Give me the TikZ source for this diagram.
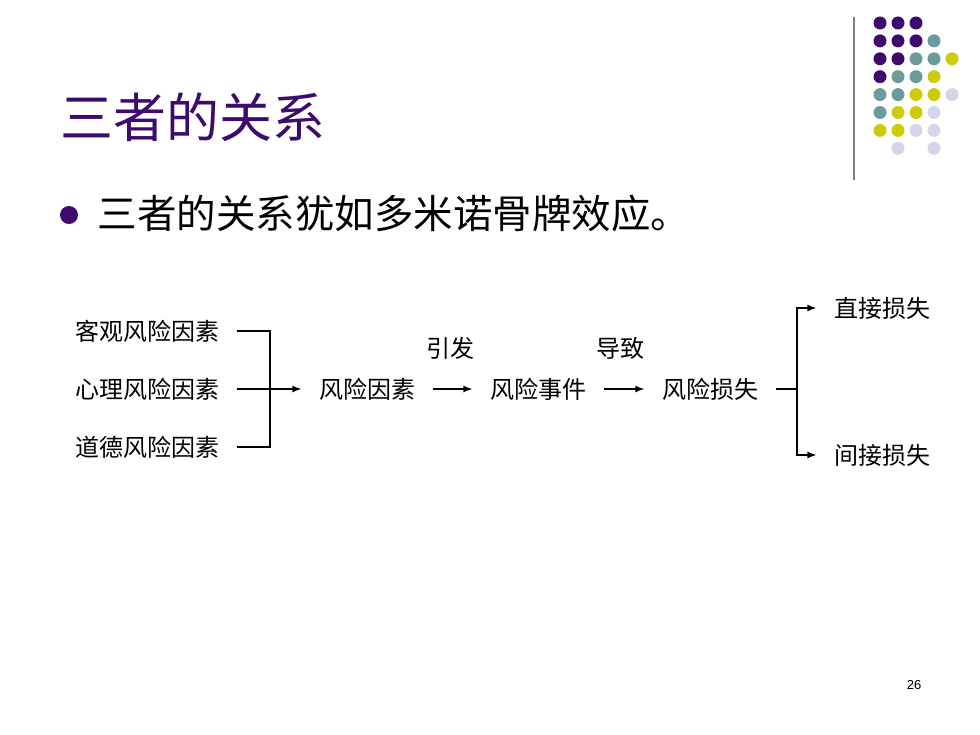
\documentclass[tikz,border=0pt]{standalone}
\usepackage{fontspec}
\setmainfont{Liberation Sans}
\newfontfamily\cjk{Noto Sans CJK SC}
\usetikzlibrary{arrows.meta}
\definecolor{slidepurple}{HTML}{3D0A6E}
\definecolor{dotteal}{HTML}{6B9B9B}
\definecolor{dotyellow}{HTML}{CCCC0A}
\definecolor{dotlilac}{HTML}{D5D5EA}
\tikzset{>={Latex[length=9pt,width=7pt]}}

\begin{document}
\begin{tikzpicture}[x=1pt, y=-1pt, line width=1.3pt,
    factor/.style={inner xsep=17pt, inner ysep=0pt, font=\cjk\fontsize{24}{24}\selectfont},
    verb/.style={inner sep=0pt, font=\cjk\fontsize{24}{24}\selectfont}]
  \fill[white] (0,0) rectangle (980,735);
  \useasboundingbox (0,0) rectangle (980,735);

  % corner decoration
  \draw[gray, line width=1.6pt] (854,17) -- (854,180);
  \foreach \c/\r/\col in {0/0/slidepurple, 1/0/slidepurple, 2/0/slidepurple,
      0/1/slidepurple, 1/1/slidepurple, 2/1/slidepurple, 3/1/dotteal,
      0/2/slidepurple, 1/2/slidepurple, 2/2/dotteal, 3/2/dotteal, 4/2/dotyellow,
      0/3/slidepurple, 1/3/dotteal, 2/3/dotteal, 3/3/dotyellow,
      0/4/dotteal, 1/4/dotteal, 2/4/dotyellow, 3/4/dotyellow, 4/4/dotlilac,
      0/5/dotteal, 1/5/dotyellow, 2/5/dotyellow, 3/5/dotlilac,
      0/6/dotyellow, 1/6/dotyellow, 2/6/dotlilac, 3/6/dotlilac,
      1/7/dotlilac, 3/7/dotlilac}
    \fill[\col] (880+18*\c, 23+17.9*\r) circle (6.5pt);

  % title and bullet
  \node (title) at (60,117) [anchor=west, inner sep=0pt, text=slidepurple,
    font=\cjk\fontsize{53}{53}\selectfont] {三者的关系};
  \fill[slidepurple] (69,215) circle (9pt);
  \node (point) at (97,213) [anchor=west, inner sep=0pt,
    font=\cjk\fontsize{39.5}{39.5}\selectfont] {三者的关系犹如多米诺骨牌效应。};

  % factors
  \node (kg) at (147,331) [factor] {客观风险因素};
  \node (xl) at (147,389) [factor] {心理风险因素};
  \node (dd) at (147,447) [factor] {道德风险因素};
  \coordinate (jl) at (270,389);
  \node (fx) at (367,389) [factor] {风险因素};
  \node (sj) at (538,389) [factor] {风险事件};
  \node (ss) at (710,389) [factor] {风险损失};
  \coordinate (jr) at (797,389);
  \node (zj) at (882,308) [factor] {直接损失};
  \node (jj) at (882,455) [factor] {间接损失};
  \node (yf) at (450,348) [verb] {引发};
  \node (dz) at (620,348) [verb] {导致};

  \draw (kg) -| (jl);
  \draw (dd) -| (jl);
  \draw[->] (xl) -- (fx);
  \draw[->] (fx) -- (sj);
  \draw[->] (sj) -- (ss);
  \draw (ss) -- (jr);
  \draw[->] (jr) |- (zj);
  \draw[->] (jr) |- (jj);

  \node (page) at (914,685) [inner sep=0pt, font=\fontsize{13}{13}\selectfont] {26};
\end{tikzpicture}
\end{document}
